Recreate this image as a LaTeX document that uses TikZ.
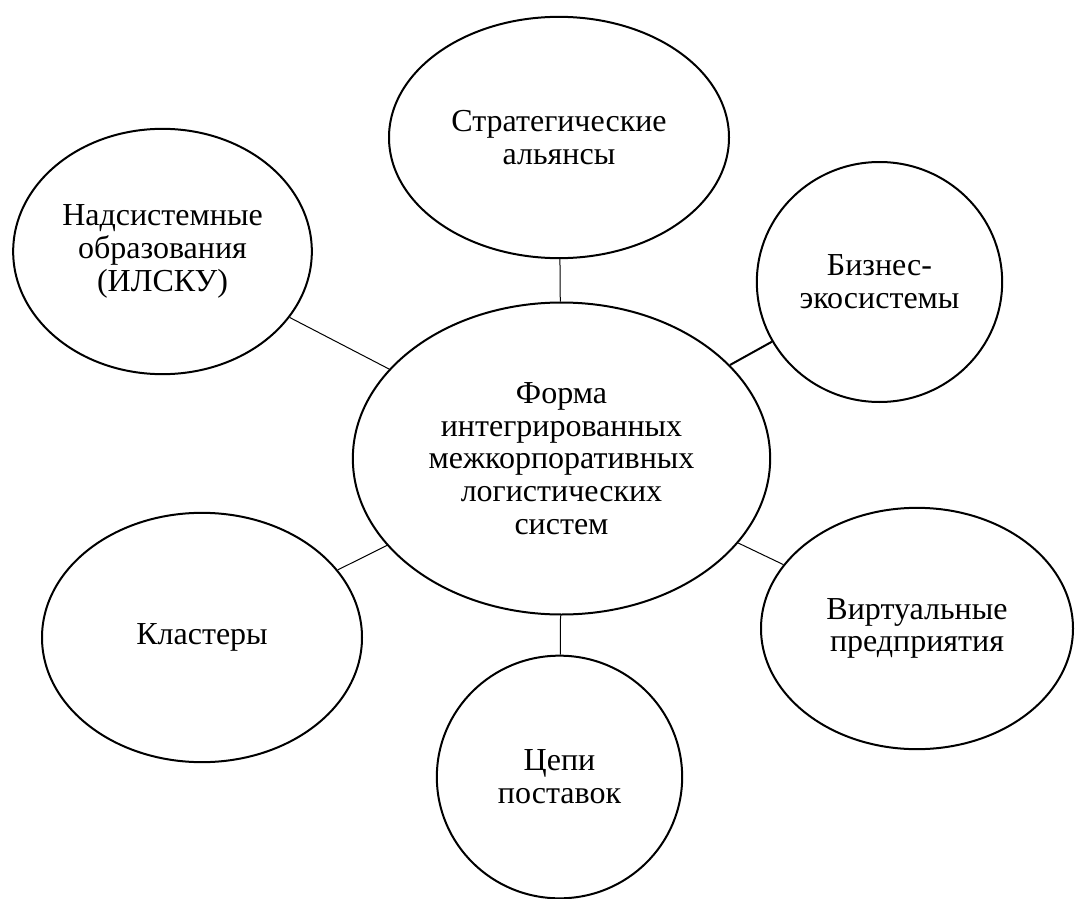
\documentclass[tikz,border=0pt]{standalone}
\usepackage{fontspec}
\setmainfont{Liberation Serif}
\usetikzlibrary{shapes.geometric}
\begin{document}
\begin{tikzpicture}[x=0.75pt,y=-0.75pt,
  bubble/.style={ellipse,draw,line width=1.5pt,inner sep=0pt,align=center,
    font=\fontsize{24}{24.5}\selectfont},
  link/.style={line width=0.75pt},
  boldlink/.style={line width=1.5pt}]
\useasboundingbox (0,0) rectangle (1075,899);

% central form
\node[bubble,minimum width=313pt,minimum height=234pt] (core) at (561.5,458.5)
  {Форма\\интегрированных\\межкорпоративных\\логистических\\систем};

% surrounding forms
\node[bubble,minimum width=255pt,minimum height=181pt] (strat) at (559,137.5)
  {Стратегические\\альянсы};
\node[bubble,minimum width=224pt,minimum height=184pt] (nad) at (162.5,251.5)
  {Надсистемные\\образования\\(ИЛСКУ)};
\node[bubble,minimum width=184pt,minimum height=180pt] (biz) at (879.5,282)
  {Бизнес-\\экосистемы};
\node[bubble,minimum width=240pt,minimum height=187pt] (klast) at (202,637.5)
  {Кластеры};
\node[bubble,minimum width=184pt,minimum height=182pt] (cepi) at (559.5,777)
  {Цепи\\поставок};
\node[bubble,minimum width=234pt,minimum height=181pt] (virt) at (917,628.5)
  {Виртуальные\\предприятия};

% links to the centre
\draw[link] (strat) -- (core);
\draw[link] (nad) -- (core);
\draw[boldlink] (biz) -- (core);
\draw[link] (klast) -- (core);
\draw[link] (cepi) -- (core);
\draw[link] (virt) -- (core);
\end{tikzpicture}
\end{document}
